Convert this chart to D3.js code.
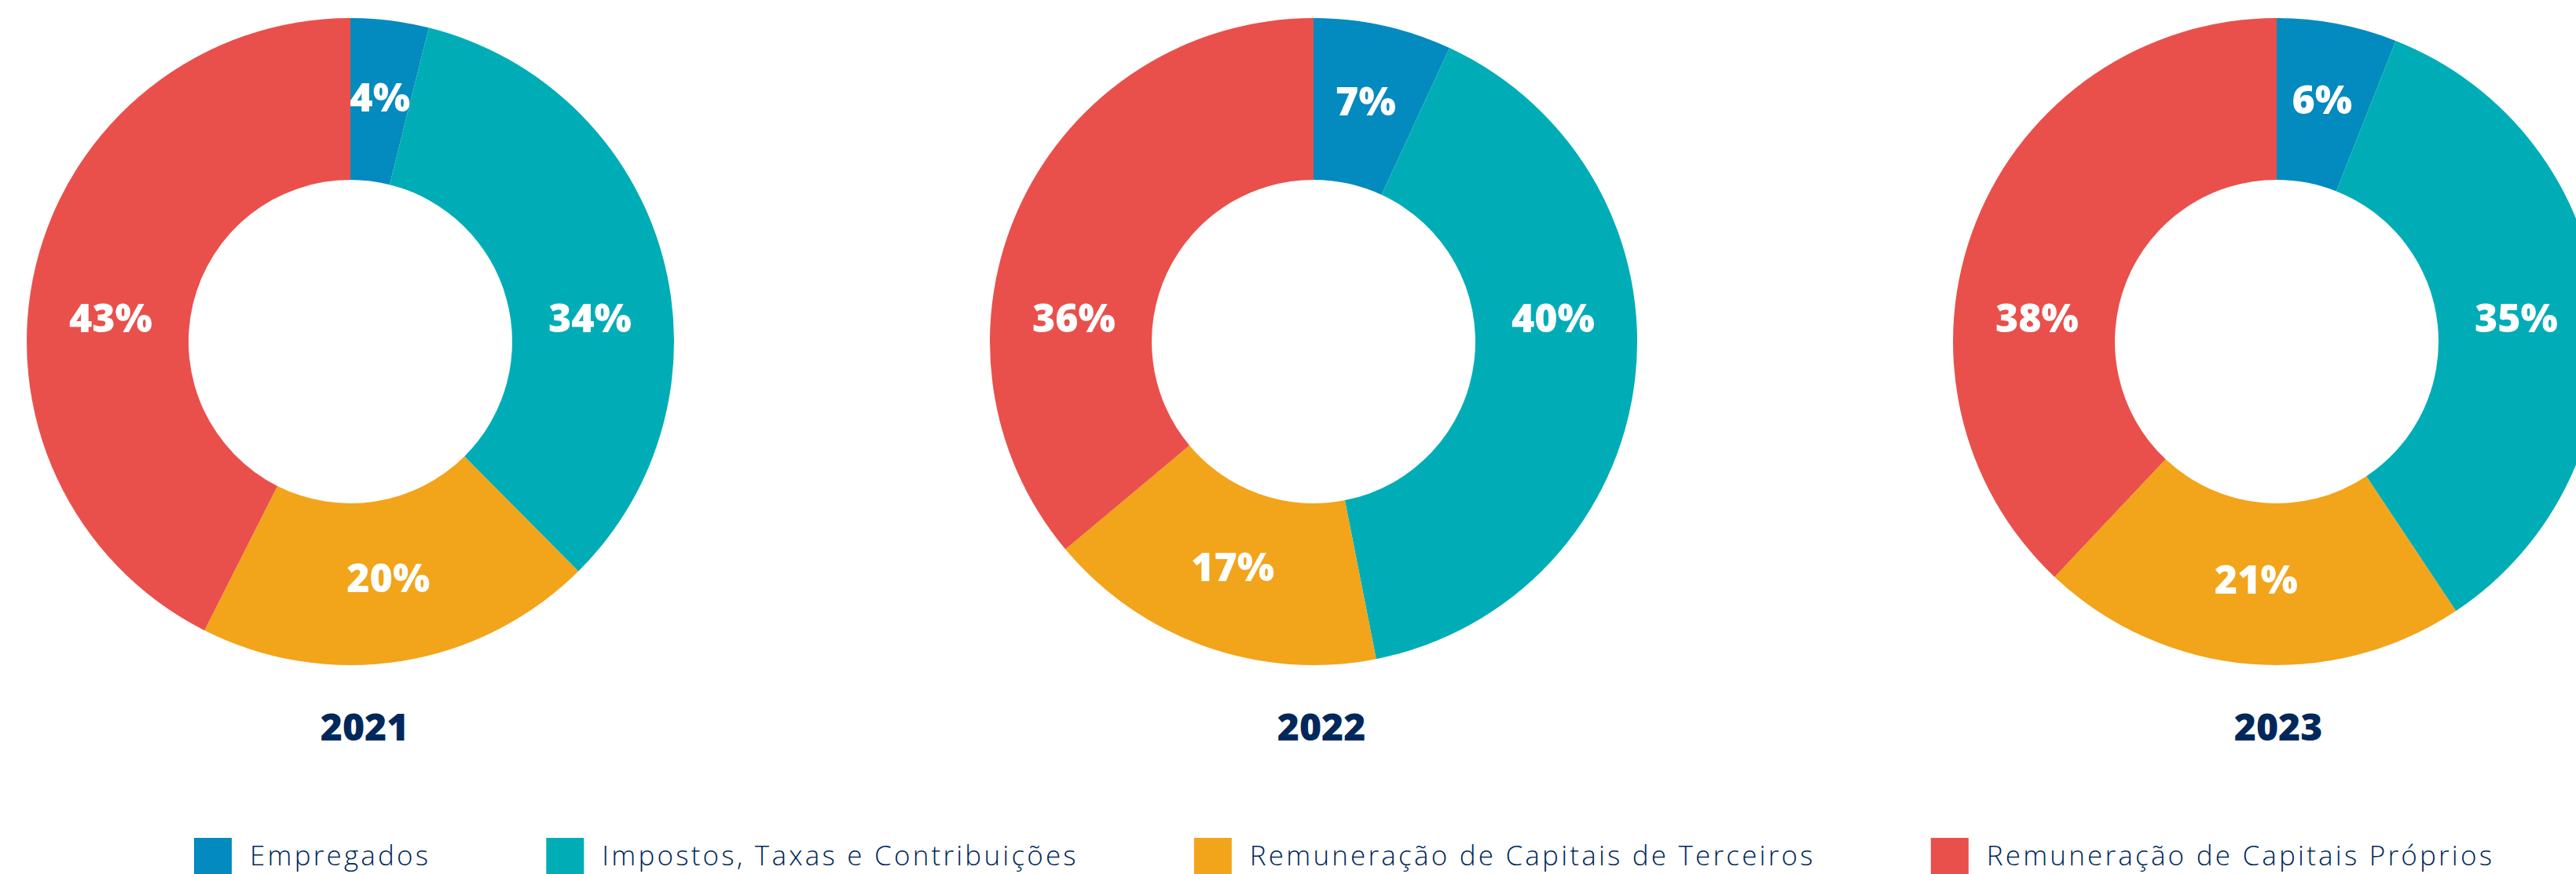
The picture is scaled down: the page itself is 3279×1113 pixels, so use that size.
<!DOCTYPE html>
<html>
<head>
<meta charset="utf-8">
<script src="https://cdn.jsdelivr.net/npm/d3@7"></script>
<style>
  body { margin: 0; background: #fff; overflow: hidden; }
</style>
</head>
<body>
<div id="chart-area"></div>
<script>
// data
var years = ["2021", "2022", "2023"];
var categories = ["Empregados", "Impostos, Taxas e Contribuições",
    "Remuneração de Capitais de Terceiros", "Remuneração de Capitais Próprios"];
var shares2021 = [3.9, 33.7, 19.9, 42.6];
var shares2022 = [6.9, 40.0, 17.0, 36.1];
var shares2023 = [6.0, 34.7, 21.4, 38.0];
var labels2021 = ["4%", "34%", "20%", "43%"];
var labels2022 = ["7%", "40%", "17%", "36%"];
var labels2023 = ["6%", "35%", "21%", "38%"];
var colors = ["#038abf", "#00adb6", "#f2a41a", "#e9504b"];

var shares = [shares2021, shares2022, shares2023];
var labels = [labels2021, labels2022, labels2023];

var width = 3279,
    height = 1113,
    outerR = 412,
    innerR = 206,
    cy = 435,
    navy = "#00285a";

var svg = d3.select("#chart-area").append("svg")
    .attr("width", width)
    .attr("height", height)
    .style("display", "block");

var x = d3.scalePoint().domain(years).range([446, 2898]);
var xTitle = d3.scalePoint().domain(years).range([464, 2900]);
var color = d3.scaleOrdinal().domain(categories).range(colors);

var pie = d3.pie().sort(null).value((d) => {return d});
var arc = d3.arc().innerRadius(innerR).outerRadius(outerR);
var labelR = (innerR + outerR) / 2;

years.forEach((yr, i) => {
    var g = svg.append("g")
        .attr("transform", "translate(" + x(yr) + ", " + cy + ")");

    var arcs = pie(shares[i]);

    g.selectAll("path")
        .data(arcs)
        .enter().append("path")
        .attr("d", arc)
        .attr("fill", (d, j) => {return color(categories[j])});

    g.selectAll("text.pct")
        .data(arcs)
        .enter().append("text")
        .attr("class", "pct")
        .attr("transform", (d) => {
            var a = (d.startAngle + d.endAngle) / 2;
            // side slices get a horizontal label, the rest sit on the centroid
            if (Math.abs(Math.sin(a)) > 0.8) {
                var sx = Math.sign(Math.sin(a)) * (labelR - 4);
                return "translate(" + sx + ", -30)";
            }
            var c = d3.arc().innerRadius(labelR).outerRadius(labelR).centroid(d);
            return "translate(" + c[0] + ", " + (c[1] - 4) + ")";
        })
        .attr("text-anchor", "middle")
        .attr("dy", "0.35em")
        .style("font-family", "'Open Sans', sans-serif")
        .style("font-weight", 800)
        .style("font-size", "50px")
        .style("fill", "#fff")
        .text((d, j) => {return labels[i][j]});

    svg.append("text")
        .attr("x", xTitle(yr))
        .attr("y", 943)
        .attr("text-anchor", "middle")
        .style("font-family", "'Open Sans', sans-serif")
        .style("font-weight", 800)
        .style("font-size", "48px")
        .style("fill", navy)
        .text(yr);
});

// legend, laid out left to right
var legend = svg.append("g");
var lx = 247;
categories.forEach((c) => {
    var item = legend.append("g")
        .attr("transform", "translate(" + lx + ", 0)");
    item.append("rect")
        .attr("x", 0)
        .attr("y", 1067)
        .attr("width", 48)
        .attr("height", 48)
        .attr("fill", color(c));
    var t = item.append("text")
        .attr("x", 71)
        .attr("y", 1102)
        .style("font-family", "'Open Sans', sans-serif")
        .style("font-weight", 300)
        .style("font-size", "35px")
        .style("letter-spacing", "3.2px")
        .style("fill", navy)
        .text(c);
    lx += 71 + t.node().getComputedTextLength() + 147;
});
</script>
</body>
</html>
